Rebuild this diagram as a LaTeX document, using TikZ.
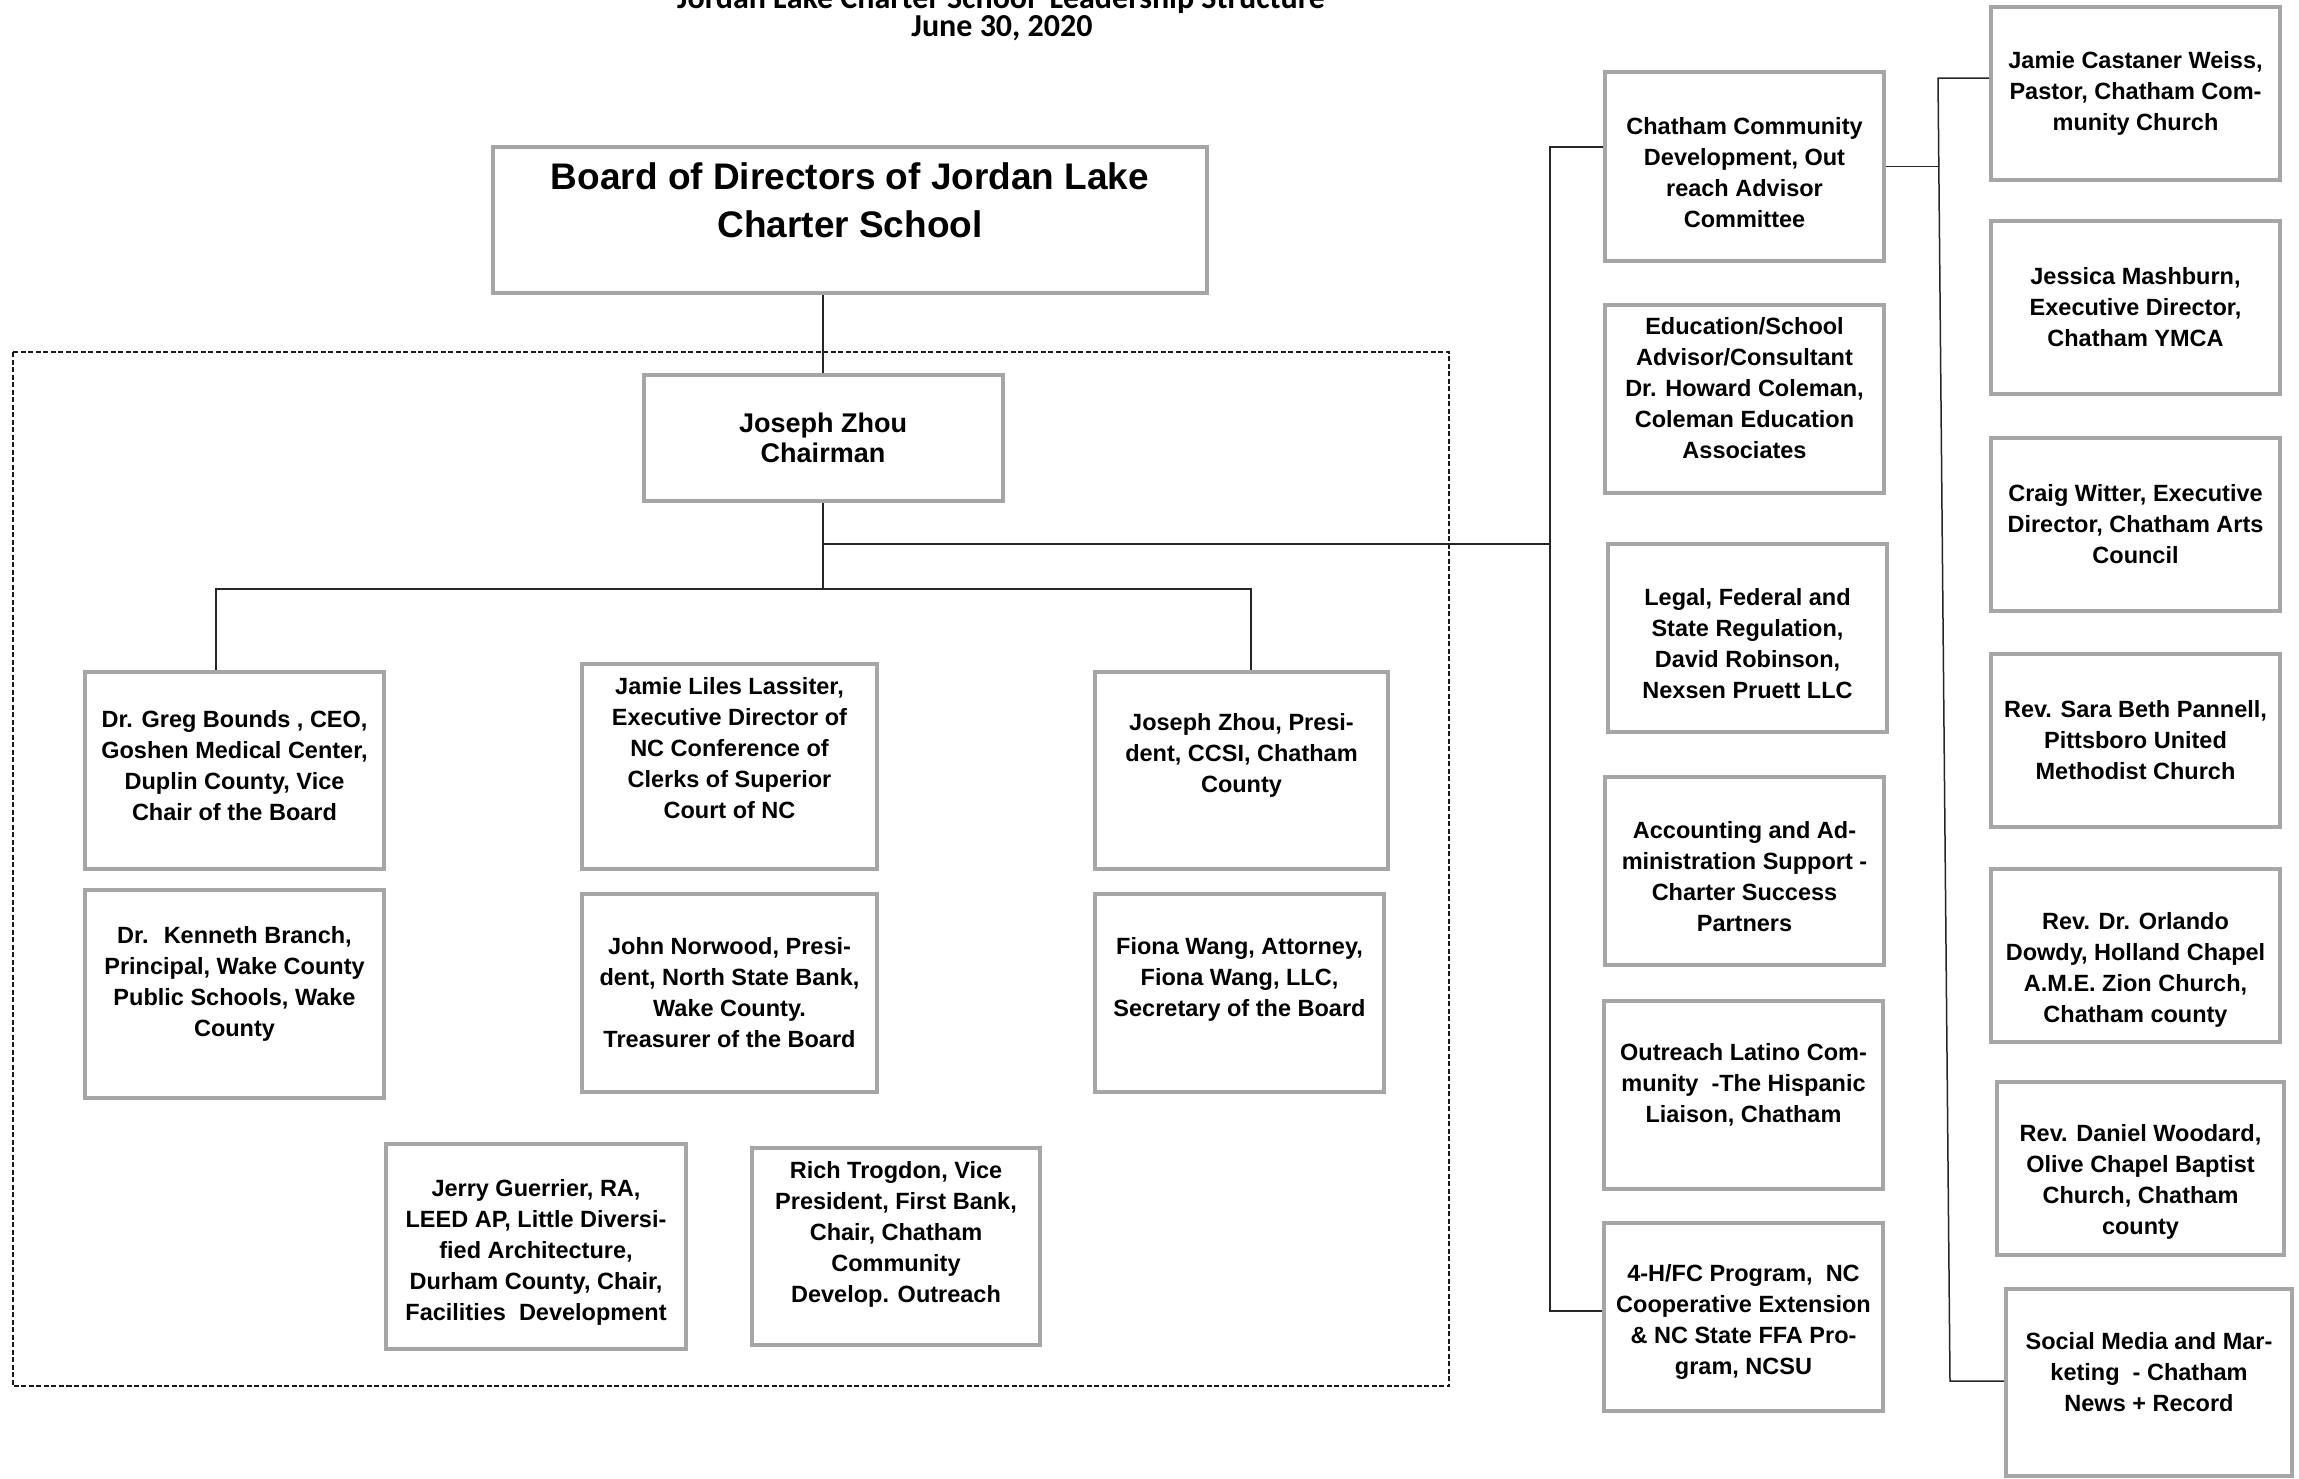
\documentclass[tikz,border=0pt]{standalone}
\usepackage{fontspec}
\setmainfont{Liberation Sans}
\newfontfamily\titlefont{Carlito}
\definecolor{boxgray}{HTML}{A6A6A6}

\begin{document}
\begin{tikzpicture}[x=1pt, y=-1pt,
  member/.style 2 args={draw=boxgray, line width=4pt, minimum width=#1pt, minimum height=#2pt, inner sep=0pt},
  every label/.style={font=\bfseries\fontsize{23.5}{31}\selectfont, align=center, inner sep=0pt},
  wire/.style={line width=1.5pt, black!85},
  frame/.style={line width=1.2pt, black!90, dash pattern=on 5pt off 2.5pt}]

  % Fixed bounding box
  \useasboundingbox (0,0) rectangle (2299,1478);

  % Title
  \node[font=\titlefont\bfseries\fontsize{32}{32}\selectfont, anchor=base] (title) at (1001,8) {Jordan Lake Charter School~ Leadership Structure};
  \node[font=\titlefont\bfseries\fontsize{32}{32}\selectfont, anchor=base] (date) at (1002,36) {June 30, 2020};

  % Board and chairman
  \node[member={714}{146}, label={[yshift=20pt, font=\bfseries\fontsize{37}{48}\selectfont]center:{Board of Directors of Jordan Lake\\Charter School}}] (board) at (850,220) {};
  \node[member={359}{126}, label={[font=\bfseries\fontsize{27}{30}\selectfont]center:{Joseph Zhou\\Chairman}}] (chair) at (823,438) {};

  % Dashed group of board members
  \draw[frame] (13,352) rectangle (1449,1386);

  % Board members
  \node[member={299}{197}, label={[yshift=5pt]center:{Dr. Greg Bounds , CEO,\\Goshen Medical Center,\\Duplin County, Vice\\Chair of the Board}}] (b1) at (234.5,770.5) {};
  \node[member={295}{205}, label={[yshift=18pt]center:{Jamie Liles Lassiter,\\Executive Director of\\NC Conference of\\Clerks of Superior\\Court of NC}}] (b2) at (729.5,766.5) {};
  \node[member={293}{197}, label={[yshift=15pt]center:{Joseph Zhou, Presi-\\dent, CCSI, Chatham\\County}}] (b3) at (1241.5,770.5) {};
  \node[member={299}{208}, label={[yshift=10pt]center:{Dr.~ Kenneth Branch,\\Principal, Wake County\\Public Schools, Wake\\County}}] (b4) at (234.5,994) {};
  \node[member={295}{198}, label={center:{John Norwood, Presi-\\dent, North State Bank,\\Wake County.\\Treasurer of the Board}}] (b5) at (729.5,993) {};
  \node[member={289}{198}, label={[yshift=14pt]center:{Fiona Wang, Attorney,\\Fiona Wang, LLC,\\Secretary of the Board}}] (b6) at (1239.5,993) {};
  \node[member={300}{205}, label={[yshift=-6pt]center:{Jerry Guerrier, RA,\\LEED AP, Little Diversi-\\fied Architecture,\\Durham County, Chair,\\Facilities~ Development}}] (b7) at (536,1246.5) {};
  \node[member={288}{197}, label={[yshift=12pt]center:{Rich Trogdon, Vice\\President, First Bank,\\Chair, Chatham\\Community\\Develop. Outreach}}] (b8) at (896,1246.5) {};

  % Advisors
  \node[member={279}{189}, label={[yshift=-6pt]center:{Chatham Community\\Development, Out\\reach Advisor\\Committee}}] (c1) at (1744.5,166.5) {};
  \node[member={279}{188}, label={[yshift=11pt]center:{Education/School\\Advisor/Consultant\\Dr. Howard Coleman,\\Coleman Education\\Associates}}] (c2) at (1744.5,399) {};
  \node[member={279}{188}, label={[yshift=-6pt]center:{Legal, Federal and\\State Regulation,\\David Robinson,\\Nexsen Pruett LLC}}] (c3) at (1747.5,638) {};
  \node[member={279}{188}, label={[yshift=-6pt]center:{Accounting and Ad-\\ministration Support -\\Charter Success\\Partners}}] (c4) at (1744.5,871) {};
  \node[member={279}{188}, label={[yshift=10pt]center:{Outreach Latino Com-\\munity~ -The Hispanic\\Liaison, Chatham}}] (c5) at (1743.5,1095) {};
  \node[member={279}{188}, label={[yshift=-5pt]center:{4-H/FC Program,~ NC\\Cooperative Extension\\\& NC State FFA Pro-\\gram, NCSU}}] (c6) at (1743.5,1317) {};

  % Outreach committee members
  \node[member={289}{173}, label={center:{Jamie Castaner Weiss,\\Pastor, Chatham Com-\\munity Church}}] (d1) at (2135.5,93.5) {};
  \node[member={289}{173}, label={center:{Jessica Mashburn,\\Executive Director,\\Chatham YMCA}}] (d2) at (2135.5,307.5) {};
  \node[member={289}{173}, label={center:{Craig Witter, Executive\\Director, Chatham Arts\\Council}}] (d3) at (2135.5,524.5) {};
  \node[member={289}{173}, label={center:{Rev. Sara Beth Pannell,\\Pittsboro United\\Methodist Church}}] (d4) at (2135.5,740.5) {};
  \node[member={289}{173}, label={[yshift=-14pt]center:{Rev. Dr. Orlando\\Dowdy, Holland Chapel\\A.M.E. Zion Church,\\Chatham county}}] (d5) at (2135.5,955.5) {};
  \node[member={287}{173}, label={[yshift=-13pt]center:{Rev. Daniel Woodard,\\Olive Chapel Baptist\\Church, Chatham\\county}}] (d6) at (2140.5,1168.5) {};
  \node[member={286}{187}, label={[yshift=10pt]center:{Social Media and Mar-\\keting~ - Chatham\\News + Record}}] (d7) at (2149,1382.5) {};

  % Connectors
  \coordinate (barL) at (216,589);
  \coordinate (barR) at (1251,589);
  \coordinate (cjoin) at (1550,544);
  \coordinate (ctop) at (1550,147);
  \coordinate (cbot) at (1550,1311);
  \coordinate (dtop) at (1938,78);
  \coordinate (dbot) at (1950,1381);

  \draw[wire] (chair.north) -- (chair.north |- board.south);
  \draw[wire] (chair.south) -- (chair.south |- barL);
  \draw[wire] (barL |- b1.north) -- (barL) -- (barR) -- (barR |- b3.north);
  \draw[wire] (chair.south |- cjoin) -- (cjoin);
  \draw[wire] (c1.west |- ctop) -- (ctop) -- (cbot) -- (c6.west |- cbot);
  \draw[wire] (c1.east) -- (c1.east -| dtop);
  \draw[wire] (d1.west |- dtop) -- (dtop) -- (dbot) -- (d7.west |- dbot);

\end{tikzpicture}
\end{document}
